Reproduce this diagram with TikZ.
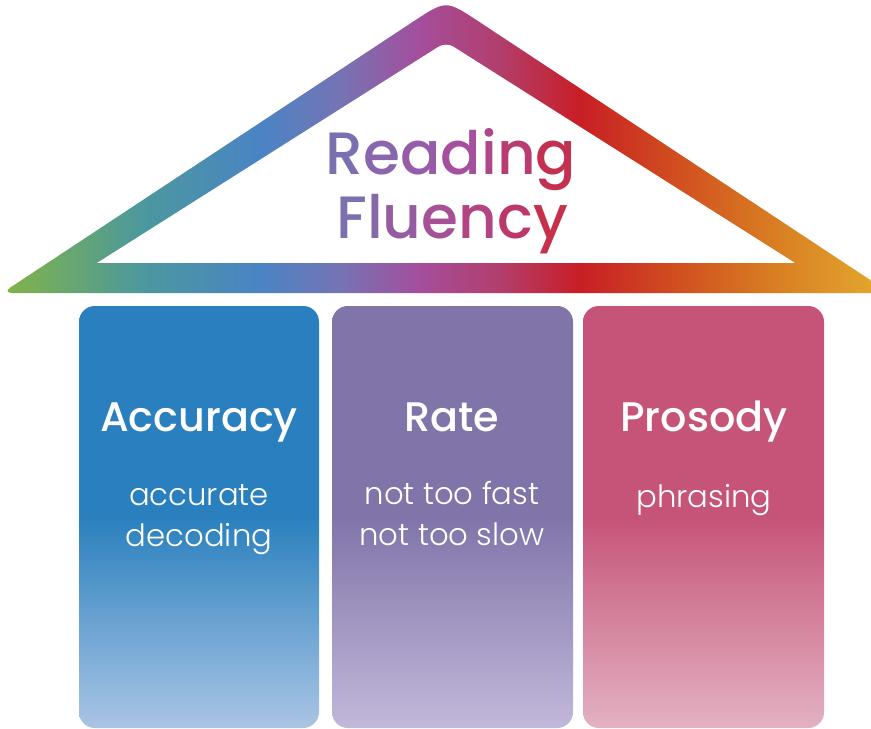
\documentclass[tikz,border=0pt]{standalone}
\usepackage{fontspec}
\setmainfont{Poppins}
\newfontfamily\medfont{Poppins Medium}
\newfontfamily\lightfont{Poppins Light}
\usetikzlibrary{positioning}

% roof colours, left to right
\definecolor{roofGreen}{HTML}{7FB24C}
\definecolor{roofTeal}{HTML}{4B989E}
\definecolor{roofBlue}{HTML}{4A84C4}
\definecolor{roofSlate}{HTML}{7574B4}
\definecolor{roofMag}{HTML}{A44E9C}
\definecolor{roofRose}{HTML}{B23E6C}
\definecolor{roofRed}{HTML}{C81E26}
\definecolor{roofRust}{HTML}{CF461F}
\definecolor{roofOr}{HTML}{D87A22}
\definecolor{roofAmber}{HTML}{E2A52C}
% pillars
\definecolor{accHi}{HTML}{2A80BE}
\definecolor{accLo}{HTML}{AAC5E4}
\definecolor{rateHi}{HTML}{8174A9}
\definecolor{rateLo}{HTML}{C2B8DA}
\definecolor{proHi}{HTML}{C65478}
\definecolor{proLo}{HTML}{E3B2C2}

\pgfdeclarehorizontalshading{roofShade}{100bp}{%
  color(0bp)=(roofGreen); color(25.5bp)=(roofGreen); color(33bp)=(roofTeal);
  color(39.5bp)=(roofBlue); color(44bp)=(roofSlate); color(48.5bp)=(roofMag);
  color(53bp)=(roofRose); color(57.5bp)=(roofRed); color(62bp)=(roofRust);
  color(68bp)=(roofOr); color(74bp)=(roofAmber); color(100bp)=(roofAmber)}
\pgfdeclareverticalshading{accShade}{100bp}{%
  color(0bp)=(accLo); color(25bp)=(accLo); color(50bp)=(accHi); color(100bp)=(accHi)}
\pgfdeclareverticalshading{rateShade}{100bp}{%
  color(0bp)=(rateLo); color(25bp)=(rateLo); color(50bp)=(rateHi); color(100bp)=(rateHi)}
\pgfdeclareverticalshading{proShade}{100bp}{%
  color(0bp)=(proLo); color(25bp)=(proLo); color(50bp)=(proHi); color(100bp)=(proHi)}

\begin{document}
\begin{tikzpicture}[
  x=0.02cm, y=-0.02cm,
  pillar/.style={rounded corners=9pt},
  head/.style={anchor=base, text=white, font=\fontsize{23.5}{27}\medfont},
  sub/.style={anchor=north, text=white, align=center, font=\fontsize{17.5}{23.5}\lightfont},
  title/.style={anchor=base, font=\fontsize{34}{36}\medfont},
]
\useasboundingbox (0,0) rectangle (871,729);
\fill[white] (0,0) rectangle (871,729);
\clip (0,0) rectangle (871,729);

% =========================== ROOF ===========================
\shade[shading=roofShade, rounded corners=6pt]
  (2,293) -- (405,27) .. controls (446,0) .. (487,27) -- (890,293) -- cycle;
\fill[white] (97,263) [rounded corners=5pt] -- (446,42) [sharp corners] -- (795,263) -- cycle;

\node[title] (reading) at (451,175){%
  \textcolor[HTML]{7C6FB0}{R}\textcolor[HTML]{8867AE}{e}\textcolor[HTML]{965CA8}{a}%
  \textcolor[HTML]{A4509C}{d}\textcolor[HTML]{AE468A}{i}\textcolor[HTML]{B83C72}{n}%
  \textcolor[HTML]{C43050}{g}};
\node[title] (fluency) at (452,239){%
  \textcolor[HTML]{7C70AE}{F}\textcolor[HTML]{8668AA}{l}\textcolor[HTML]{965CA2}{u}%
  \textcolor[HTML]{A65096}{e}\textcolor[HTML]{B24482}{n}\textcolor[HTML]{BC386A}{c}%
  \textcolor[HTML]{C6304A}{y}};

% =========================== PILLARS ===========================
\shade[pillar, shading=accShade]  (79,306)  rectangle (319,728);
\shade[pillar, shading=rateShade] (332,306) rectangle (573,728);
\shade[pillar, shading=proShade]  (583,306) rectangle (824,728);

\node[head] (acc)  at (199,431){Accuracy};
\node[head] (rate) at (452,431){Rate};
\node[head] (pro)  at (704,431){Prosody};

\node[sub] (accsub)  at (199,478){accurate\\decoding};
\node[sub] (ratesub) at (452,475){not too fast\\not too slow};
\node[sub] (prosub)  at (704,478){phrasing};

\end{tikzpicture}
\end{document}
